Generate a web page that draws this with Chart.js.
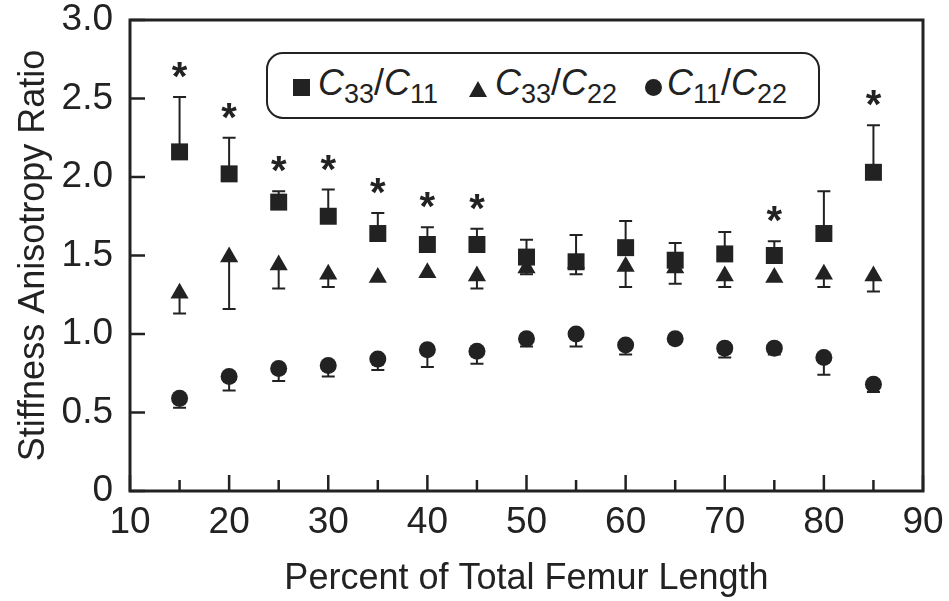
<!DOCTYPE html>
<html><head><meta charset="utf-8">
<script src="https://cdn.jsdelivr.net/npm/chart.js@4/dist/chart.umd.min.js"></script>
<style>
html,body{margin:0;padding:0;background:#fff;}
#wrap{position:relative;width:949px;height:601px;overflow:hidden;}
#chart{position:absolute;left:0;top:0;}
#legend{position:absolute;left:266px;top:52px;width:554px;height:67px;border:2.5px solid #222;border-radius:17px;box-sizing:border-box;background:#fff;font-family:"Liberation Sans",Arial,sans-serif;color:#222;}
.lab{position:absolute;top:9px;font-size:36px;line-height:40px;white-space:nowrap;}
.lab i{font-style:italic;}
.lab sub{font-size:27px;vertical-align:-8px;line-height:0;}
.mk{position:absolute;}
.sq{width:17px;height:17px;background:#222;}
.tri{width:0;height:0;border-left:9px solid transparent;border-right:9px solid transparent;border-bottom:16px solid #222;}
.cir{width:17px;height:17px;border-radius:50%;background:#222;}
</style>
</head><body>
<div id="wrap">
<canvas id="chart" width="949" height="601"></canvas>
<div id="legend"></div>
</div>
<script>
// ---- data ----
const xPercent = [15,20,25,30,35,40,45,50,55,60,65,70,75,80,85];
const c33c11 = [2.16,2.02,1.84,1.75,1.64,1.57,1.57,1.49,1.46,1.55,1.47,1.51,1.50,1.64,2.03];
const c33c11ErrUp = [0.35,0.23,0.07,0.17,0.13,0.11,0.10,0.11,0.17,0.17,0.11,0.14,0.09,0.27,0.30];
const c33c22 = [1.26,1.49,1.44,1.38,1.36,1.39,1.37,1.42,1.45,1.43,1.42,1.37,1.36,1.38,1.37];
const c33c22ErrDown = [0.13,0.33,0.15,0.08,0.0,0.0,0.08,0.04,0.07,0.13,0.10,0.07,0.0,0.08,0.10];
const c11c22 = [0.59,0.73,0.78,0.80,0.84,0.90,0.89,0.97,1.00,0.93,0.97,0.91,0.91,0.85,0.68];
const c11c22ErrDown = [0.06,0.09,0.08,0.07,0.07,0.11,0.08,0.05,0.08,0.06,0.0,0.06,0.04,0.11,0.05];
const significant = [true,true,true,true,true,true,true,false,false,false,false,false,true,false,true];
const xMajorTicks = [10,20,30,40,50,60,70,80,90];
const xMinorTicks = [15,25,35,45,55,65,75,85];
const yTicks = [0,0.5,1.0,1.5,2.0,2.5,3.0];
const seriesNames = [["33","11"],["33","22"],["11","22"]];

const INK = '#222';
const FONT = '"Liberation Sans", Arial, sans-serif';

function pts(arr){ return xPercent.map((x,i)=>({x:x,y:arr[i]})); }

const errorBars = {
  id:'errorBars',
  beforeDatasetsDraw(chart){
    const ctx = chart.ctx, xs = chart.scales.x, ys = chart.scales.y;
    ctx.save();
    ctx.strokeStyle = INK; ctx.lineWidth = 2;
    const cap = 6.5;
    const draw = (vals, errs, dir) => {
      xPercent.forEach((x,i)=>{
        if(!errs[i]) return;
        const px = xs.getPixelForValue(x);
        const y0 = ys.getPixelForValue(vals[i]);
        const y1 = ys.getPixelForValue(vals[i] + dir*errs[i]);
        ctx.beginPath();
        ctx.moveTo(px,y0); ctx.lineTo(px,y1);
        ctx.moveTo(px-cap,y1); ctx.lineTo(px+cap,y1);
        ctx.stroke();
      });
    };
    draw(c33c11, c33c11ErrUp, 1);
    draw(c33c22, c33c22ErrDown, -1);
    draw(c11c22, c11c22ErrDown, -1);
    ctx.restore();
  },
  afterDatasetsDraw(chart){
    const ctx = chart.ctx, xs = chart.scales.x, ys = chart.scales.y;
    ctx.save();
    ctx.fillStyle = INK;
    ctx.font = 'bold 40px ' + FONT;
    ctx.textAlign = 'center';
    ctx.textBaseline = 'alphabetic';
    const m = ctx.measureText('*');
    const shift = (m.actualBoundingBoxAscent - m.actualBoundingBoxDescent)/2;
    xPercent.forEach((x,i)=>{
      if(!significant[i]) return;
      const px = xs.getPixelForValue(x);
      const top = ys.getPixelForValue(c33c11[i] + c33c11ErrUp[i]);
      const cy = top - 27;
      ctx.fillText('*', px, cy + shift);
    });
    ctx.restore();
  },
  afterDraw(chart){
    const ctx = chart.ctx, a = chart.chartArea, xs = chart.scales.x, ys = chart.scales.y;
    ctx.save();
    ctx.strokeStyle = INK;
    ctx.lineWidth = 2.5;
    xMajorTicks.forEach(v=>{ const p = xs.getPixelForValue(v); ctx.beginPath(); ctx.moveTo(p,a.bottom); ctx.lineTo(p,a.bottom-16); ctx.stroke(); });
    xMinorTicks.forEach(v=>{ const p = xs.getPixelForValue(v); ctx.beginPath(); ctx.moveTo(p,a.bottom); ctx.lineTo(p,a.bottom-11); ctx.stroke(); });
    yTicks.forEach(v=>{ const p = ys.getPixelForValue(v); ctx.beginPath(); ctx.moveTo(a.left,p); ctx.lineTo(a.left+15,p); ctx.stroke(); });
    ctx.lineWidth = 3;
    ctx.strokeRect(a.left, a.top, a.right-a.left, a.bottom-a.top);
    ctx.restore();
  }
};

new Chart(document.getElementById('chart'), {
  type:'scatter',
  data:{ datasets:[
    {label:'C33/C11', data:pts(c33c11), pointStyle:'rect', pointRadius:12, backgroundColor:INK, borderColor:INK, borderWidth:0, order:1},
    {label:'C33/C22', data:pts(c33c22), pointStyle:'triangle', pointRadius:10.5, backgroundColor:INK, borderColor:INK, borderWidth:0, order:2},
    {label:'C11/C22', data:pts(c11c22), pointStyle:'circle', pointRadius:8.5, backgroundColor:INK, borderColor:INK, borderWidth:0, order:3}
  ]},
  options:{
    responsive:false, animation:false, devicePixelRatio:1,
    layout:{padding:{left:0,right:26,top:20,bottom:0}},
    plugins:{legend:{display:false}, tooltip:{enabled:false}},
    elements:{point:{hoverRadius:0}},
    scales:{
      x:{type:'linear', min:10, max:90,
        afterBuildTicks(s){ s.ticks = xMajorTicks.map(v=>({value:v})); },
        ticks:{color:INK, font:{family:FONT, size:37}, padding:10, maxRotation:0, autoSkip:false},
        grid:{display:false, drawTicks:false}, border:{display:false},
        title:{display:true, text:'Percent of Total Femur Length', color:INK, font:{family:FONT, size:36}, padding:{top:0,bottom:0}},
        afterFit(s){ s.height = 110; s.paddingLeft = 0; s.paddingRight = 0; }
      },
      y:{min:0, max:3,
        afterBuildTicks(s){ s.ticks = yTicks.map(v=>({value:v})); },
        ticks:{color:INK, font:{family:FONT, size:37}, padding:17, callback:(v)=> v===0 ? '0' : Number(v).toFixed(1)},
        grid:{display:false, drawTicks:false}, border:{display:false},
        title:{display:true, text:'Stiffness Anisotropy Ratio', color:INK, font:{family:FONT, size:36}, padding:{top:12,bottom:0}},
        afterFit(s){ s.width = 130; s.paddingTop = 0; s.paddingBottom = 0; }
      }
    }
  },
  plugins:[errorBars]
});

// ---- HTML legend with subscripts ----
const legend = document.getElementById('legend');
const markerClass = ['sq','tri','cir'];
const markerPos = [[25,25],[201,27],[377,25]];
const labelPos = [50,227,399];
seriesNames.forEach((s,i)=>{
  const mk = document.createElement('div');
  mk.className = 'mk ' + markerClass[i];
  mk.style.left = markerPos[i][0]+'px'; mk.style.top = markerPos[i][1]+'px';
  legend.appendChild(mk);
  const lab = document.createElement('div');
  lab.className = 'lab';
  lab.style.left = labelPos[i]+'px';
  lab.innerHTML = '<i>C</i><sub>'+s[0]+'</sub>/<i>C</i><sub>'+s[1]+'</sub>';
  legend.appendChild(lab);
});
</script>
</body></html>
